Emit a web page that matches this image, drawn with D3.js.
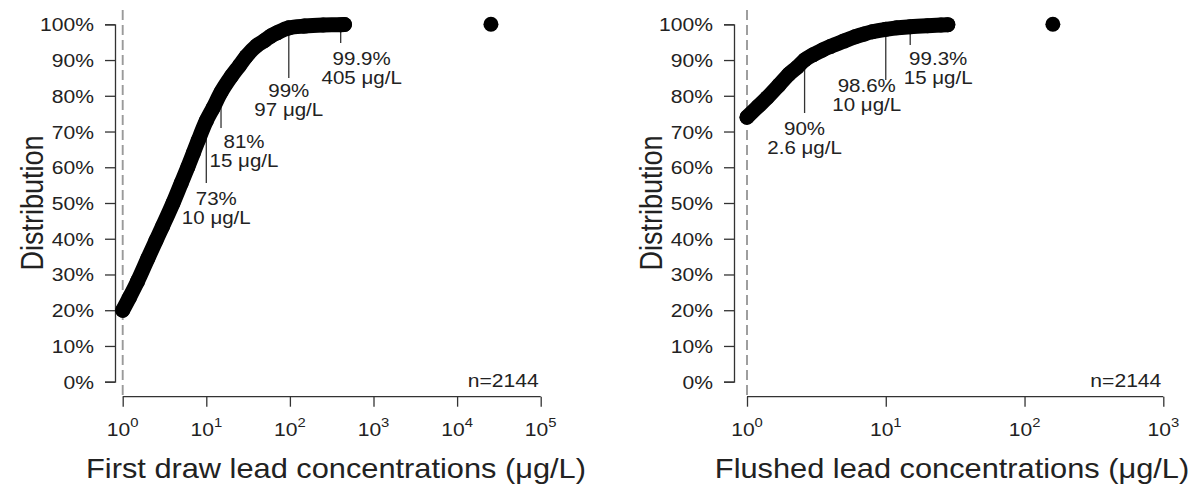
<!DOCTYPE html>
<html>
<head>
<meta charset="utf-8">
<script src="https://cdn.jsdelivr.net/npm/d3@7"></script>
<style>
  html, body { margin: 0; padding: 0; background: #fff; }
  svg { display: block; }
  text { font-family: "Liberation Sans", Arial, Helvetica, sans-serif; fill: #222; }
</style>
</head>
<body>
<svg id="chart" width="1197" height="491"></svg>
<script>
// Cumulative distribution of first-draw lead concentrations (µg/L vs. cumulative %)
const firstDrawConc = [1, 1.2, 1.5, 2, 2.5, 3, 4, 5, 6, 7, 8, 10, 12, 15, 20, 25, 30, 40, 50, 60, 70, 97, 150, 250, 405, 450];
const firstDrawPct  = [20, 23.5, 28, 34.5, 39.5, 43.5, 50, 55.5, 60, 64, 67.5, 73, 76.5, 81, 85.5, 88.5, 91, 94, 95.5, 96.8, 97.6, 99, 99.5, 99.8, 99.9, 99.95];
const firstDrawMax  = [25400, 100];

// Cumulative distribution of flushed lead concentrations
const flushedConc = [1, 1.2, 1.4, 1.7, 2, 2.3, 2.6, 3, 3.5, 4, 5, 6, 7, 8, 10, 12, 15, 20, 25, 28];
const flushedPct  = [74, 77, 79.5, 83, 86, 88, 90, 91.5, 92.8, 93.8, 95.3, 96.5, 97.3, 97.9, 98.6, 99, 99.3, 99.6, 99.8, 99.9];
const flushedMax  = [160, 100];

// Highlighted percentiles: [percent, concentration]
const firstDrawMarks = [[73, 10], [81, 15], [99, 97], [99.9, 405]];
const flushedMarks   = [[90, 2.6], [98.6, 10], [99.3, 15]];

const yTickValues = [0, 10, 20, 30, 40, 50, 60, 70, 80, 90, 100];
const firstDrawExponents = [0, 1, 2, 3, 4, 5];
const flushedExponents   = [0, 1, 2, 3];
const sampleLabel = "n=2144";
const yTitle = "Distribution";
const firstDrawTitle = "First draw lead concentrations (\u03bcg/L)";
const flushedTitle   = "Flushed lead concentrations (\u03bcg/L)";

const svg = d3.select("#chart");
const STRETCH = 1.14;      // glyphs are drawn slightly wide
const INK = "#333";
const DOT_R = 7.5;

function label(g, x, y, str, size, anchor) {
  return g.append("text")
    .attr("transform", `translate(${x},${y}) scale(${STRETCH},1)`)
    .attr("text-anchor", anchor || "middle")
    .attr("font-size", size)
    .text(str);
}

function panel(opts) {
  const g = svg.append("g");
  const x = d3.scaleLog().domain([1, Math.pow(10, opts.exponents[opts.exponents.length - 1])]).range(opts.xRange);
  const y = d3.scaleLinear().domain([0, 100]).range([381.7, 24.3]);
  const axisY = 396.7;

  // reference line at 1 µg/L
  g.append("line")
    .attr("x1", x(1)).attr("x2", x(1))
    .attr("y1", 10).attr("y2", axisY)
    .attr("stroke", "#9a9a9a").attr("stroke-width", 1.9)
    .attr("stroke-dasharray", "10,5");

  // y axis
  const yAxis = d3.axisLeft(y).tickValues(yTickValues).tickSize(10).tickFormat("");
  const ya = g.append("g").attr("transform", `translate(${opts.yAxisX},0)`).call(yAxis);
  ya.select(".domain").attr("stroke", INK).attr("stroke-width", 1.3);
  ya.selectAll(".tick line").attr("stroke", INK).attr("stroke-width", 1.3);
  yTickValues.forEach(v => label(g, opts.yAxisX - 21, y(v) + 7, v + "%", 18.5, "end"));

  // x axis
  const xTicks = opts.exponents.map(e => Math.pow(10, e));
  const xAxis = d3.axisBottom(x).tickValues(xTicks).tickSize(10).tickFormat("");
  const xa = g.append("g").attr("transform", `translate(0,${axisY})`).call(xAxis);
  xa.select(".domain").attr("stroke", INK).attr("stroke-width", 1.3).attr("d", `M${x(1)},0H${opts.xRange[1]}`);
  xa.selectAll(".tick line").attr("stroke", INK).attr("stroke-width", 1.3);
  opts.exponents.forEach(e => {
    const t = g.append("text")
      .attr("transform", `translate(${x(Math.pow(10, e))},436) scale(${STRETCH},1)`)
      .attr("text-anchor", "middle").attr("font-size", 18.5);
    t.append("tspan").text("10");
    t.append("tspan").attr("dy", -9).attr("font-size", 13).text(String(e));
  });

  // sample size
  label(g, opts.xRange[1] - 2, 387, sampleLabel, 18.5, "end");

  // axis titles
  g.append("text")
    .attr("transform", `translate(${opts.yTitleX},203) rotate(-90) scale(1,${STRETCH})`)
    .attr("text-anchor", "middle").attr("font-size", 27).text(yTitle);
  label(g, opts.titleX, 478, opts.title, 27, "middle");

  // percentile callouts (drawn first; the curve covers their upper ends)
  opts.marks.forEach((m, i) => {
    const lay = opts.markLayout[i];
    const cx = x(m[1]);
    g.append("line")
      .attr("x1", cx).attr("x2", cx)
      .attr("y1", y(m[0])).attr("y2", lay.end)
      .attr("stroke", INK).attr("stroke-width", 1.3);
    label(g, cx + lay.dx, lay.base, m[0] + "%", 18, "middle");
    label(g, cx + lay.dx, lay.base + 18.5, m[1] + " \u03bcg/L", 18, "middle");
  });

  // distribution curve
  const pts = opts.conc.map((c, i) => [c, opts.pct[i]]);
  const line = d3.line().x(d => x(d[0])).y(d => y(d[1])).curve(d3.curveMonotoneX);
  g.append("path").datum(pts)
    .attr("d", line)
    .attr("fill", "none").attr("stroke", "#000")
    .attr("stroke-width", DOT_R * 2).attr("stroke-linecap", "round").attr("stroke-linejoin", "round");
  g.selectAll("circle.pt").data(pts.concat([opts.max])).join("circle")
    .attr("class", "pt")
    .attr("cx", d => x(d[0])).attr("cy", d => y(d[1])).attr("r", DOT_R)
    .attr("fill", "#000");
}

panel({
  conc: firstDrawConc, pct: firstDrawPct, max: firstDrawMax,
  marks: firstDrawMarks,
  markLayout: [
    { dx: 10, end: 183, base: 205 },
    { dx: 23, end: 128, base: 148 },
    { dx: 0,  end: 78,  base: 97 },
    { dx: 21, end: 43,  base: 65 }
  ],
  exponents: firstDrawExponents,
  xRange: [122.7, 540.7],
  yAxisX: 115,
  yTitleX: 43,
  titleX: 336,
  title: firstDrawTitle
});

panel({
  conc: flushedConc, pct: flushedPct, max: flushedMax,
  marks: flushedMarks,
  markLayout: [
    { dx: 0,   end: 113, base: 135 },
    { dx: -19, end: 80,  base: 92 },
    { dx: 28,  end: 45,  base: 65 }
  ],
  exponents: flushedExponents,
  xRange: [747, 1163.3],
  yAxisX: 734,
  yTitleX: 662,
  titleX: 952,
  title: flushedTitle
});
</script>
</body>
</html>
